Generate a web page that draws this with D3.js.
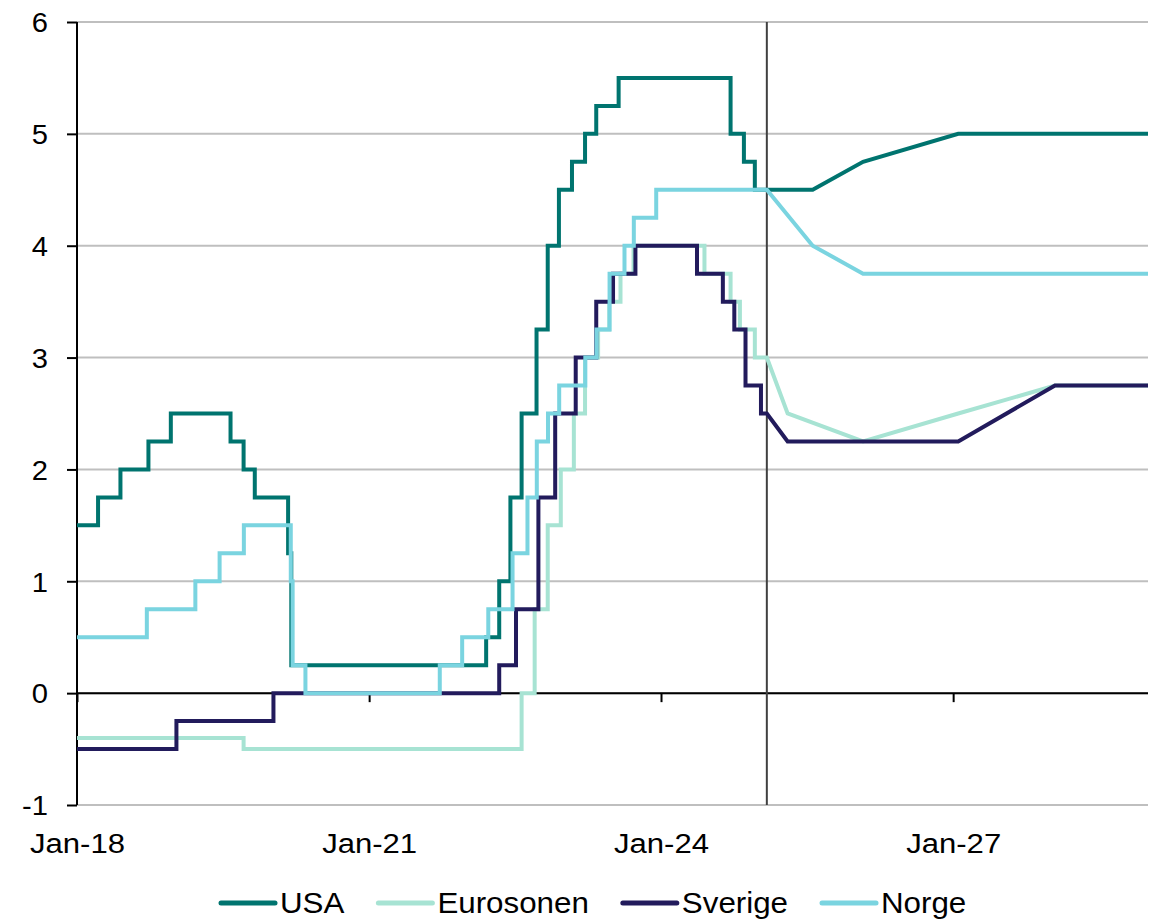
<!DOCTYPE html>
<html>
<head>
<meta charset="utf-8">
<script src="https://cdn.jsdelivr.net/npm/d3@7"></script>
<style>
body { margin: 0; background: #fff; }
text { font-family: "Liberation Sans", Arial, sans-serif; fill: #000; }
</style>
</head>
<body>
<script>
var w = 1170, h = 920;

// serier og farger
var names = ["USA", "Eurosonen", "Sverige", "Norge"];
var colors = ["#00746f", "#a7e3d3", "#221b5c", "#7ad4e0"];

// historikk: dato for rentendring, ny rente
var usaHist = [["2018-01-01",1.5],["2018-03-21",1.75],["2018-06-13",2.0],["2018-09-26",2.25],["2018-12-19",2.5],
	["2019-07-31",2.25],["2019-09-18",2.0],["2019-10-30",1.75],["2020-03-03",1.25],["2020-03-15",0.25],
	["2022-03-16",0.5],["2022-05-04",1.0],["2022-06-15",1.75],["2022-07-27",2.5],["2022-09-21",3.25],
	["2022-11-02",4.0],["2022-12-14",4.5],["2023-02-01",4.75],["2023-03-22",5.0],["2023-05-03",5.25],
	["2023-07-26",5.5],["2024-09-18",5.0],["2024-11-07",4.75],["2024-12-18",4.5]];
var euroHist = [["2018-01-01",-0.4],["2019-09-18",-0.5],["2022-07-27",0.0],["2022-09-14",0.75],["2022-11-02",1.5],
	["2022-12-21",2.0],["2023-02-08",2.5],["2023-03-22",3.0],["2023-05-10",3.25],["2023-06-21",3.5],
	["2023-08-02",3.75],["2023-09-20",4.0],["2024-06-12",3.75],["2024-09-18",3.5],["2024-10-23",3.25],
	["2024-12-18",3.0]];
var sveHist = [["2018-01-01",-0.5],["2019-01-09",-0.25],["2020-01-08",0.0],["2022-05-04",0.25],["2022-07-06",0.75],
	["2022-09-28",1.75],["2022-11-30",2.5],["2023-02-15",3.0],["2023-05-03",3.5],["2023-07-05",3.75],
	["2023-09-27",4.0],["2024-05-15",3.75],["2024-08-20",3.5],["2024-10-02",3.25],["2024-11-13",2.75],
	["2025-01-10",2.5]];
var norHist = [["2018-01-01",0.5],["2018-09-20",0.75],["2019-03-21",1.0],["2019-06-20",1.25],["2019-09-19",1.5],
	["2020-03-13",1.0],["2020-03-20",0.25],["2020-05-07",0.0],["2021-09-23",0.25],["2021-12-16",0.5],
	["2022-03-24",0.75],["2022-06-23",1.25],["2022-08-18",1.75],["2022-09-22",2.25],["2022-11-03",2.5],
	["2022-12-15",2.75],["2023-03-23",3.0],["2023-05-04",3.25],["2023-06-22",3.75],["2023-08-17",4.0],
	["2023-09-21",4.25],["2023-12-14",4.5]];

// prognoser
var usaFc = [["2025-02-01",4.5],["2025-07-23",4.5],["2026-01-28",4.75],["2027-01-20",5.0],["2029-01-01",5.0]];
var euroFc = [["2025-02-01",3.0],["2025-04-20",2.5],["2026-01-28",2.25],["2027-01-20",2.5],["2028-01-18",2.75],["2029-01-01",2.75]];
var sveFc = [["2025-02-01",2.5],["2025-04-20",2.25],["2027-01-20",2.25],["2028-01-18",2.75],["2029-01-01",2.75]];
var norFc = [["2025-02-01",4.5],["2025-07-23",4.0],["2026-01-28",3.75],["2029-01-01",3.75]];

var forecastStart = "2025-02-01";
var xTicks = ["2018-01-01", "2021-01-01", "2024-01-01", "2027-01-01"];
var yTicks = [-1, 0, 1, 2, 3, 4, 5, 6];

var parse = d3.timeParse("%Y-%m-%d");

var x = d3.scaleTime()
	.domain([parse("2018-01-01"), parse("2029-01-01")])
	.range([77, 1148]);
var y = d3.scaleLinear()
	.domain([-1, 6])
	.range([805, 22]);

var svg = d3.select("body").append("svg")
	.attr("width", w)
	.attr("height", h);

// rutenett
svg.append("g").selectAll("line")
	.data(yTicks)
	.enter().append("line")
	.attr("x1", x.range()[0]).attr("x2", x.range()[1])
	.attr("y1", function(d){ return y(d); })
	.attr("y2", function(d){ return y(d); })
	.style("stroke", "#bfbfbf")
	.style("stroke-width", 2);

// y-akse
var yAxis = svg.append("g")
	.attr("transform", "translate(" + x.range()[0] + ",0)")
	.call(d3.axisLeft(y).tickValues(yTicks).tickSize(10).tickPadding(17).tickFormat(function(d){ return String(d); }));
yAxis.select(".domain").style("stroke", "#000").style("stroke-width", 2).attr("d", "M0," + y(-1) + "V" + y(6));
yAxis.selectAll(".tick line").style("stroke", "#000").style("stroke-width", 2);
yAxis.selectAll("text").style("font-size", "27px").attr("dy", "0.36em").attr("transform", "scale(1.08,1)");

// x-akse ved null
var xAxis = svg.append("g")
	.attr("transform", "translate(0," + y(0) + ")")
	.call(d3.axisBottom(x).tickValues(xTicks.map(parse)).tickSize(9).tickFormat(d3.timeFormat("%b-%y")));
xAxis.select(".domain").style("stroke", "#000").style("stroke-width", 2).attr("d", "M" + x.range()[0] + ",0H" + x.range()[1]);
xAxis.selectAll(".tick line").style("stroke", "#000").style("stroke-width", 2);
xAxis.selectAll("text").style("font-size", "28px").attr("y", 853 - y(0)).attr("dy", 0).attr("transform", "scale(1.11,1)");

// prognosestrek
svg.append("line")
	.attr("x1", x(parse(forecastStart))).attr("x2", x(parse(forecastStart)))
	.attr("y1", y(6)).attr("y2", y(-1))
	.style("stroke", "#404040")
	.style("stroke-width", 2);

function buildPoints(hist, fc) {
	var pts = [];
	hist.forEach(function(d, i) {
		var dt = parse(d[0]);
		if (i > 0) pts.push([dt, hist[i-1][1]]);
		pts.push([dt, d[1]]);
	});
	pts.push([parse(fc[0][0]), hist[hist.length-1][1]]);
	fc.forEach(function(d) { pts.push([parse(d[0]), d[1]]); });
	return pts;
}

var allSeries = [
	buildPoints(usaHist, usaFc),
	buildPoints(euroHist, euroFc),
	buildPoints(sveHist, sveFc),
	buildPoints(norHist, norFc)
];

var line = d3.line()
	.x(function(d){ return x(d[0]); })
	.y(function(d){ return y(d[1]); });

svg.append("g").selectAll("path")
	.data(allSeries)
	.enter().append("path")
	.attr("d", line)
	.style("fill", "none")
	.style("stroke", function(d, i){ return colors[i]; })
	.style("stroke-width", 4)
	.style("stroke-linejoin", "miter");

// tegnforklaring
var legend = svg.append("g");
var lx = 221;
names.forEach(function(n, i) {
	legend.append("line")
		.attr("x1", lx).attr("x2", lx + 54)
		.attr("y1", 903).attr("y2", 903)
		.style("stroke", colors[i])
		.style("stroke-width", 5)
		.style("stroke-linecap", "round");
	var t = legend.append("text")
		.attr("transform", "translate(" + (lx + 59) + ",913) scale(1.08,1)")
		.style("font-size", "29px")
		.text(n);
	lx = lx + 59 + t.node().getComputedTextLength() * 1.08 + 34;
});
</script>
</body>
</html>
